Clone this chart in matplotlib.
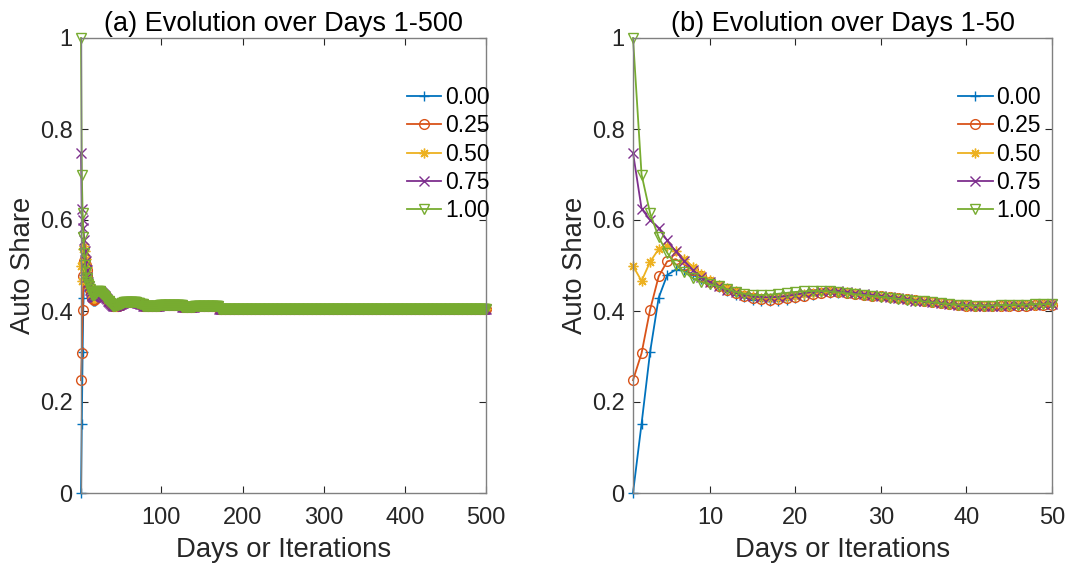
import matplotlib
matplotlib.use("Agg")
import matplotlib.pyplot as plt
from matplotlib.ticker import FormatStrFormatter

plt.rcParams['font.family'] = ['Liberation Sans', 'DejaVu Sans']

# auto share, days 1-50, one list per initial share
share_000 = [0.000, 0.152, 0.310, 0.429, 0.479, 0.491, 0.490, 0.480, 0.470, 0.460,
             0.452, 0.444, 0.436, 0.430, 0.425, 0.422, 0.421, 0.422, 0.424, 0.428,
             0.432, 0.436, 0.439, 0.440, 0.440, 0.439, 0.437, 0.435, 0.433, 0.431,
             0.429, 0.427, 0.425, 0.423, 0.421, 0.419, 0.417, 0.415, 0.413, 0.412,
             0.411, 0.411, 0.411, 0.412, 0.412, 0.413, 0.413, 0.414, 0.414, 0.415]
share_025 = [0.248, 0.307, 0.403, 0.476, 0.509, 0.514, 0.502, 0.490, 0.476, 0.464,
             0.455, 0.447, 0.440, 0.434, 0.429, 0.426, 0.425, 0.426, 0.428, 0.431,
             0.434, 0.437, 0.440, 0.441, 0.441, 0.440, 0.438, 0.436, 0.434, 0.432,
             0.430, 0.428, 0.426, 0.424, 0.422, 0.419, 0.417, 0.415, 0.413, 0.411,
             0.410, 0.410, 0.410, 0.411, 0.411, 0.412, 0.412, 0.413, 0.413, 0.414]
share_050 = [0.499, 0.466, 0.508, 0.536, 0.542, 0.531, 0.515, 0.497, 0.481, 0.468,
             0.458, 0.450, 0.443, 0.437, 0.432, 0.429, 0.428, 0.429, 0.431, 0.434,
             0.437, 0.440, 0.442, 0.443, 0.442, 0.441, 0.439, 0.436, 0.434, 0.432,
             0.430, 0.428, 0.426, 0.424, 0.421, 0.419, 0.417, 0.415, 0.414, 0.412,
             0.411, 0.411, 0.411, 0.412, 0.412, 0.413, 0.414, 0.414, 0.415, 0.416]
share_075 = [0.748, 0.625, 0.600, 0.582, 0.555, 0.531, 0.510, 0.490, 0.474, 0.463,
             0.455, 0.447, 0.441, 0.436, 0.432, 0.430, 0.430, 0.431, 0.433, 0.436,
             0.439, 0.442, 0.443, 0.444, 0.443, 0.441, 0.439, 0.437, 0.435, 0.432,
             0.430, 0.428, 0.426, 0.423, 0.421, 0.419, 0.417, 0.415, 0.414, 0.413,
             0.412, 0.412, 0.412, 0.412, 0.413, 0.413, 0.414, 0.414, 0.415, 0.416]
share_100 = [1.000, 0.700, 0.615, 0.562, 0.528, 0.502, 0.486, 0.472, 0.463, 0.459,
             0.454, 0.448, 0.442, 0.438, 0.435, 0.435, 0.436, 0.438, 0.440, 0.442,
             0.443, 0.444, 0.444, 0.443, 0.441, 0.439, 0.437, 0.435, 0.433, 0.431,
             0.429, 0.427, 0.425, 0.423, 0.421, 0.419, 0.417, 0.415, 0.414, 0.413,
             0.412, 0.412, 0.412, 0.413, 0.413, 0.414, 0.414, 0.415, 0.415, 0.416]

# days 51-500: all runs have merged, read as (level, number of days)
tail_levels = [0.417, 0.419, 0.420, 0.419, 0.417, 0.415, 0.412, 0.413, 0.409, 0.411, 0.405]
tail_counts = [3, 4, 8, 4, 4, 4, 20, 28, 15, 30, 330]

labels = ['0.00', '0.25', '0.50', '0.75', '1.00']
colors = ['#0072BD', '#D95319', '#EDB120', '#7E2F8E', '#77AC30']
markers = ['+', 'o', (8, 2, 0), 'x', 'v']

tail = []
for level, n in zip(tail_levels, tail_counts):
    tail += [level] * n

series = [share_000, share_025, share_050, share_075, share_100]
full = [s + tail for s in series]
days_all = list(range(1, len(full[0]) + 1))
days_50 = list(range(1, 51))

fig = plt.figure(figsize=(10.7, 5.69), dpi=100)
ax1 = fig.add_axes([81 / 1070, 76 / 569, 405 / 1070, 455 / 569])
ax2 = fig.add_axes([633 / 1070, 76 / 569, 419 / 1070, 455 / 569])

panels = [
    (ax1, days_all, full, 500, [100, 200, 300, 400, 500], '(a) Evolution over Days 1-500', 0.805),
    (ax2, days_50, series, 50, [10, 20, 30, 40, 50], '(b) Evolution over Days 1-50', 0.776),
]

for ax, days, data, xmax, xticks, title, leg_x in panels:
    for vals, lab, c, m in zip(data, labels, colors, markers):
        ax.plot(days, vals[:len(days)], color=c, marker=m, markersize=7,
                markerfacecolor='none', markeredgewidth=1.0, linewidth=1.3,
                label=lab, clip_on=False)
    ax.set_xlim(1, xmax)
    ax.set_ylim(0, 1)
    ax.set_xticks(xticks)
    ax.set_yticks([0, 0.2, 0.4, 0.6, 0.8, 1])
    ax.yaxis.set_major_formatter(FormatStrFormatter('%g'))
    ax.tick_params(direction='in', length=5, top=True, right=True,
                   labelsize=17, colors='#262626')
    ax.tick_params(axis='x', pad=10)
    ax.tick_params(axis='y', pad=6)
    for sp in ax.spines.values():
        sp.set_color('#808080')
        sp.set_linewidth(1.0)
    ax.set_title(title, fontsize=19.5, color='black', pad=5)
    ax.set_xlabel('Days or Iterations', fontsize=19.8, color='#262626', labelpad=6)
    ax.set_ylabel('Auto Share', fontsize=19.8, color='#262626', labelpad=3)
    ax.legend(loc='upper left', bbox_to_anchor=(leg_x, 0.895), frameon=False,
              fontsize=16.5, handlelength=1.5, handletextpad=0.15,
              labelspacing=0.235, borderpad=0, borderaxespad=0)

fig.savefig('out.png', dpi=100)
